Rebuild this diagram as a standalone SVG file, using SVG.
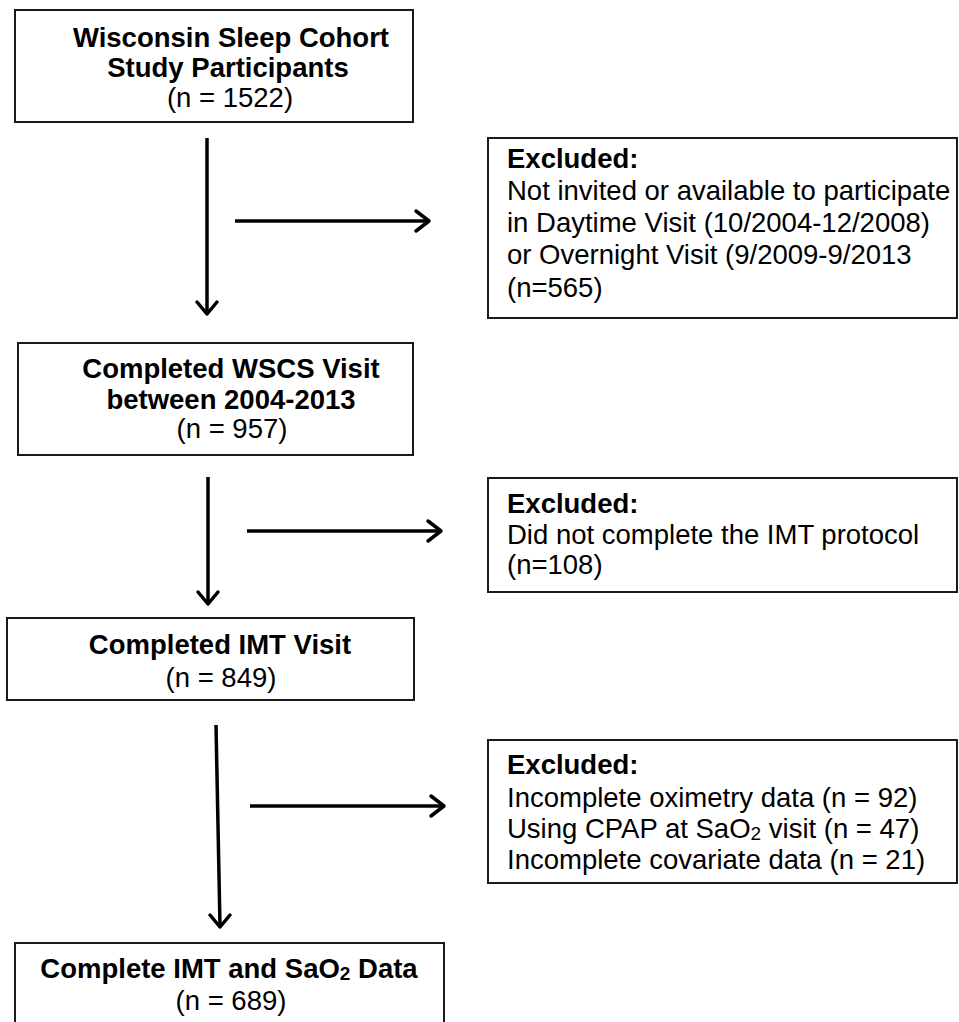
<svg xmlns="http://www.w3.org/2000/svg" width="959" height="1022" viewBox="0 0 959 1022">
<style>
.box{fill:#fff;stroke:#1a1a1a;stroke-width:2}
.t{font-family:"Liberation Sans",Arial,sans-serif;font-size:27.5px;fill:#000}
.b{font-weight:bold}
.c{text-anchor:middle}
.ln{stroke:#000;stroke-width:3.5;fill:none}
.hd{stroke:#000;stroke-width:3.5;fill:none;stroke-linecap:round;stroke-linejoin:round}
</style>
<rect width="959" height="1022" fill="#fff"/>
<g id="n1">
<rect class="box" x="15" y="10" width="398" height="112"/>
<text class="t b c" x="231" y="47">Wisconsin Sleep Cohort</text>
<text class="t b c" x="228" y="77">Study Participants</text>
<text class="t c" x="230" y="107">(n = 1522)</text>
</g>
<g id="e1">
<rect class="box" x="488" y="138" width="469" height="180"/>
<text class="t b" x="507" y="168">Excluded:</text>
<text class="t" x="507" y="200">Not invited or available to participate</text>
<text class="t" x="507" y="232">in Daytime Visit (10/2004-12/2008)</text>
<text class="t" x="507" y="264">or Overnight Visit (9/2009-9/2013</text>
<text class="t" x="507" y="297">(n=565)</text>
</g>
<g id="n2">
<rect class="box" x="18" y="343" width="395" height="112"/>
<text class="t b c" x="231" y="378">Completed WSCS Visit</text>
<text class="t b c" x="231" y="409">between 2004-2013</text>
<text class="t c" x="232" y="438">(n = 957)</text>
</g>
<g id="e2">
<rect class="box" x="488" y="478" width="469" height="114"/>
<text class="t b" x="507" y="513">Excluded:</text>
<text class="t" x="507" y="544">Did not complete the IMT protocol</text>
<text class="t" x="507" y="574">(n=108)</text>
</g>
<g id="n3">
<rect class="box" x="7" y="618" width="407" height="82"/>
<text class="t b c" x="220" y="654">Completed IMT Visit</text>
<text class="t c" x="221" y="687">(n = 849)</text>
</g>
<g id="e3">
<rect class="box" x="488" y="740" width="469" height="143"/>
<text class="t b" x="507" y="774">Excluded:</text>
<text class="t" x="507" y="807">Incomplete oximetry data (n = 92)</text>
<text class="t" x="507" y="838">Using CPAP at SaO<tspan font-size="19" dy="2">2</tspan><tspan dy="-2"> visit (n = 47)</tspan></text>
<text class="t" x="507" y="869">Incomplete covariate data (n = 21)</text>
</g>
<g id="n4">
<rect class="box" x="15" y="943" width="429" height="90"/>
<text class="t b c" x="229" y="978">Complete IMT and SaO<tspan font-size="19" dy="2">2</tspan><tspan dy="-2"> Data</tspan></text>
<text class="t c" x="231" y="1010">(n = 689)</text>
</g>
<g id="connectors">
<line class="ln" x1="207" y1="138" x2="207" y2="313"/>
<polyline class="hd" points="197,302 207,314 217,302"/>
<line class="ln" x1="235" y1="221" x2="428" y2="221"/>
<polyline class="hd" points="416,211 429,221 416,231"/>
<line class="ln" x1="208" y1="477" x2="208" y2="603"/>
<polyline class="hd" points="198,592 208,604 218,592"/>
<line class="ln" x1="247" y1="531" x2="440" y2="531"/>
<polyline class="hd" points="428,521 441,531 428,541"/>
<line class="ln" x1="216" y1="725" x2="220" y2="926"/>
<polyline class="hd" points="210,915 220,927 230,915"/>
<line class="ln" x1="250" y1="806" x2="443" y2="806"/>
<polyline class="hd" points="431,796 444,806 431,816"/>
</g>
</svg>
